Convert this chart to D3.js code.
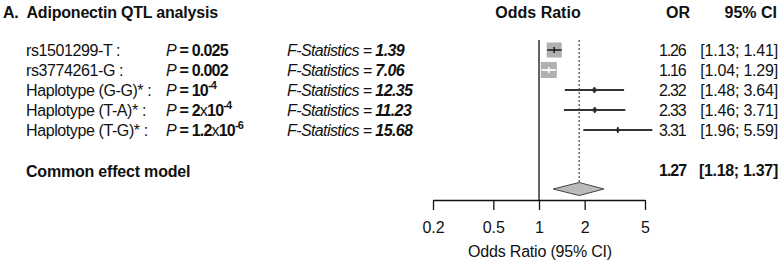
<!DOCTYPE html>
<html>
<head>
<meta charset="utf-8">
<script src="https://cdn.jsdelivr.net/npm/d3@7"></script>
<style>
  body { margin:0; background:#fff; }
  text { font-family: "Liberation Sans", Arial, sans-serif; fill:#111; }
</style>
</head>
<body>
<div class="container"></div>
<script>
// data
var labels=["rs1501299-T :","rs3774261-G :","Haplotype (G-G)* :","Haplotype (T-A)* :","Haplotype (T-G)* :"];
var pBase=["0.025","0.002","10","2x10","1.2x10"];
var pExp=["","","-4","-4","-6"];
var fStat=["1.39","7.06","12.35","11.23","15.68"];
var orVal=[1.26,1.16,2.32,2.33,3.31];
var ciLo=[1.13,1.04,1.48,1.46,1.96];
var ciHi=[1.41,1.29,3.64,3.71,5.59];
var weights=[44,50,3,3,2];
var orText=["1.26","1.16","2.32","2.33","3.31"];
var ciText=["[1.13; 1.41]","[1.04; 1.29]","[1.48; 3.64]","[1.46; 3.71]","[1.96; 5.59]"];
// pooled row: printed values, and diamond as drawn in the figure
var pooledText=["1.27","[1.18; 1.37]"];
var diamond={lo:1.24,est:1.84,hi:2.68};
var tickVals=[0.2,0.5,1,2,5];

var w=782, h=263;
var svg=d3.select(".container").append("svg")
  .attr("width",w).attr("height",h);

// x scale (log odds ratio)
var x=d3.scaleLog().domain([0.2,5]).range([433,645]);
// rows
var y=d3.scalePoint().domain(d3.range(labels.length)).range([50,130]);
var boxSize=d3.scaleSqrt().domain([0,50]).range([0,16]);

// headers
svg.append("text").attr("x",3).attr("y",18)
  .attr("font-size",16).attr("font-weight","bold")
  .attr("xml:space","preserve").attr("letter-spacing",-0.2)
  .text("A.  Adiponectin QTL analysis");
svg.append("text").attr("x",538).attr("y",18).attr("text-anchor","middle")
  .attr("font-size",16).attr("font-weight","bold").text("Odds Ratio");
svg.append("text").attr("x",690).attr("y",18).attr("text-anchor","end")
  .attr("font-size",16).attr("font-weight","bold").text("OR");
svg.append("text").attr("x",777).attr("y",18).attr("text-anchor","end")
  .attr("font-size",16).attr("font-weight","bold").text("95% CI");

var rows=d3.range(labels.length);

// labels
svg.selectAll(".lab").data(rows).enter().append("text")
  .attr("class","lab").attr("x",26).attr("y",function(i){return y(i)+6;})
  .attr("font-size",16).attr("letter-spacing",-0.4)
  .text(function(i){return labels[i];});

// P values
var pt=svg.selectAll(".pv").data(rows).enter().append("text")
  .attr("class","pv").attr("x",166).attr("y",function(i){return y(i)+6;})
  .attr("font-size",16).attr("letter-spacing",-0.8);
pt.append("tspan").attr("font-style","italic").text("P");
pt.append("tspan").attr("font-weight","bold").text(" = ");
pt.each(function(i){
  var t=d3.select(this);
  var b=pBase[i];
  if(b.indexOf("x")>0){
    var parts=b.split("x");
    t.append("tspan").attr("font-weight","bold").text(parts[0]);
    t.append("tspan").text("x");
    t.append("tspan").attr("font-weight","bold").text(parts[1]);
  } else {
    t.append("tspan").attr("font-weight","bold").text(b);
  }
  if(pExp[i]){
    t.append("tspan").attr("font-weight","bold").attr("font-size",11)
      .attr("dy",-7).text(pExp[i]);
  }
});

// F statistics
var ft=svg.selectAll(".fs").data(rows).enter().append("text")
  .attr("class","fs").attr("x",287).attr("y",function(i){return y(i)+6;})
  .attr("font-size",16).attr("font-style","italic").attr("letter-spacing",-0.6);
ft.append("tspan").text("F-Statistics = ");
ft.append("tspan").attr("font-weight","bold").text(function(i){return fStat[i];});

// reference line at 1
svg.append("line").attr("x1",x(1)).attr("x2",x(1)).attr("y1",40).attr("y2",200)
  .attr("stroke","#111").attr("stroke-width",1.3);
// pooled (dotted) line
svg.append("line").attr("x1",x(diamond.est)).attr("x2",x(diamond.est))
  .attr("y1",40).attr("y2",183)
  .attr("stroke","#444").attr("stroke-width",1.2).attr("stroke-dasharray","2,2");

// boxes
svg.selectAll(".box").data(rows).enter().append("rect")
  .attr("class","box")
  .attr("x",function(i){return x(orVal[i])-boxSize(weights[i])/2;})
  .attr("y",function(i){return y(i)-boxSize(weights[i])/2;})
  .attr("width",function(i){return boxSize(weights[i]);})
  .attr("height",function(i){return boxSize(weights[i]);})
  .attr("fill",function(i){return boxSize(weights[i])<8?"#777":"#b0b0b0";});

// CI lines (white when clearly inside the box)
function inside(i){
  var s=boxSize(weights[i])/2;
  return x(ciLo[i])>=x(orVal[i])-s+0.5 && x(ciHi[i])<=x(orVal[i])+s-0.5;
}
svg.selectAll(".ci").data(rows).enter().append("line")
  .attr("class","ci")
  .attr("x1",function(i){return x(ciLo[i]);})
  .attr("x2",function(i){return x(ciHi[i]);})
  .attr("y1",function(i){return y(i);}).attr("y2",function(i){return y(i);})
  .attr("stroke",function(i){return inside(i)?"#fff":"#333";})
  .attr("stroke-width",1.8);
// estimate tick
svg.selectAll(".est").data(rows).enter().append("line")
  .attr("class","est")
  .attr("x1",function(i){return x(orVal[i]);}).attr("x2",function(i){return x(orVal[i]);})
  .attr("y1",function(i){return y(i)-3;}).attr("y2",function(i){return y(i)+3;})
  .attr("stroke",function(i){return inside(i)?"#fff":"#222";})
  .attr("stroke-width",1.6);

// OR and CI text
svg.selectAll(".ort").data(rows).enter().append("text")
  .attr("x",659).attr("y",function(i){return y(i)+6;})
  .attr("font-size",16).attr("letter-spacing",-1.2).text(function(i){return orText[i];});
svg.selectAll(".cit").data(rows).enter().append("text")
  .attr("x",778).attr("y",function(i){return y(i)+6;}).attr("text-anchor","end")
  .attr("font-size",16).attr("letter-spacing",-0.2).text(function(i){return ciText[i];});

// pooled row
svg.append("text").attr("x",26).attr("y",177).attr("font-size",16)
  .attr("font-weight","bold").attr("letter-spacing",-0.2).text("Common effect model");
svg.append("text").attr("x",659).attr("y",176)
  .attr("font-size",16).attr("font-weight","bold").attr("letter-spacing",-1.0).text(pooledText[0]);
svg.append("text").attr("x",778).attr("y",176).attr("text-anchor","end")
  .attr("font-size",16).attr("font-weight","bold").attr("letter-spacing",-0.3).text(pooledText[1]);

var dy=189;
svg.append("polygon")
  .attr("points",[[x(diamond.lo),dy],[x(diamond.est),dy-6.5],[x(diamond.hi),dy],[x(diamond.est),dy+6.5]].join(" "))
  .attr("fill","#bbbbbb").attr("stroke","#444").attr("stroke-width",1);

// axis
var axis=d3.axisBottom(x).tickValues(tickVals).tickSize(10).tickSizeOuter(0)
  .tickPadding(12).tickFormat(function(d){return String(d);});
var ax=svg.append("g").attr("transform","translate(0,200)").call(axis);
ax.select(".domain").attr("stroke","#111").attr("stroke-width",1.3);
ax.selectAll(".tick line").attr("stroke","#111").attr("stroke-width",1.3);
ax.selectAll(".tick text").attr("font-size",16).attr("fill","#111")
  .attr("font-family","Liberation Sans, Arial, sans-serif");
svg.append("text").attr("x",540).attr("y",257).attr("text-anchor","middle")
  .attr("font-size",16).attr("letter-spacing",-0.2).text("Odds Ratio (95% CI)");
</script>
</body>
</html>
